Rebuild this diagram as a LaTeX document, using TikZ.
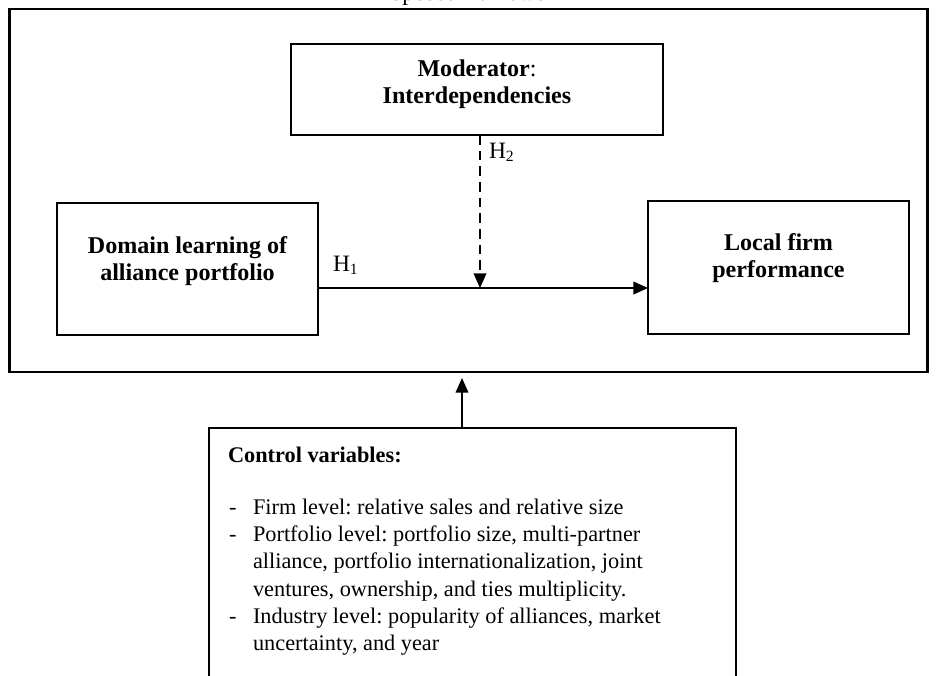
\documentclass[tikz,border=0pt]{standalone}
\usepackage{fontspec}
\setmainfont{Liberation Serif}
\usetikzlibrary{arrows.meta}
\newcommand\pxu{0.511pt}
\newlength\dashw
\setlength\dashw{12.3pt}
\frenchspacing
\begin{document}
\frenchspacing
\begin{tikzpicture}[x=0.511pt,y=-0.511pt,
  every node/.style={inner sep=0pt,outer sep=0pt,font=\fontsize{12pt}{13.8pt}\selectfont\frenchspacing},
  framebox/.style={draw,line width=1.1pt},
  box/.style={draw,line width=0.75pt,anchor=north west},
  boxtext/.style={font=\fontsize{12.3pt}{13.6pt}\selectfont\bfseries\frenchspacing,align=center,anchor=base},
  ctlfont/.style={font=\fontsize{11.4pt}{13.8pt}\selectfont\frenchspacing},
  ctlhead/.style={font=\fontsize{11.4pt}{13.8pt}\selectfont\bfseries\frenchspacing},
  arr/.style={line width=0.8pt,-{Triangle[length=7.5pt,width=6.5pt]}},
  dasharr/.style={line width=0.8pt,dash pattern=on 5pt off 3pt,-{Triangle[length=7.5pt,width=6.5pt]}}]
\useasboundingbox (0,0) rectangle (937,675);
% title, mostly cut off at the top edge
\node[anchor=base] (title) at (468,0.3) {Proposed framework};
% outer frame
\node[framebox,anchor=north west,minimum width={918*\pxu},minimum height={363*\pxu}] (frame) at (9.5,9) {};
% boxes
\node[box,minimum width={372*\pxu},minimum height={91*\pxu}] (mod) at (291,44) {};
\node[box,minimum width={261*\pxu},minimum height={132*\pxu}] (dom) at (57,203) {};
\node[box,minimum width={261*\pxu},minimum height={133*\pxu}] (loc) at (648,201) {};
\node[box,line width=0.9pt,minimum width={527*\pxu},minimum height={300*\pxu}] (ctl) at (209,428) {};
% texts (base anchor = baseline of the last line)
\node[boxtext] (modt) at (477,103) {Moderator{\mdseries :}\\Interdependencies};
\node[boxtext] (domt) at (187.5,280) {Domain learning of\\alliance portfolio};
\node[boxtext] (loct) at (778.5,277) {Local firm\\performance};
\node[anchor=base west,ctlhead] (ctlt) at (228,462) {Control variables:};
\node[anchor=base west,align=left,ctlfont] (ctll) at (229,650) {%
\makebox[\dashw][l]{-}Firm level: relative sales and relative size\\
\makebox[\dashw][l]{-}Portfolio level: portfolio size, multi-partner\\
\hspace*{\dashw}alliance, portfolio internationalization, joint\\
\hspace*{\dashw}ventures, ownership, and ties multiplicity.\\
\makebox[\dashw][l]{-}Industry level: popularity of alliances, market\\
\hspace*{\dashw}uncertainty, and year};
% connectors
\coordinate (h1y) at (0,288);
\coordinate (meet) at (480,288);
\coordinate (upx) at (462,378);
\draw[arr] (dom.east |- h1y) -- (loc.west |- h1y);
\draw[dasharr] (mod.south -| meet) -- (meet);
\draw[arr] (ctl.north -| upx) -- (upx);
% hypothesis labels
\node[anchor=base west] (h1) at (333,271) {H\textsubscript{1}};
\node[anchor=base west] (h2) at (489,158) {H\textsubscript{2}};
\end{tikzpicture}
\end{document}
